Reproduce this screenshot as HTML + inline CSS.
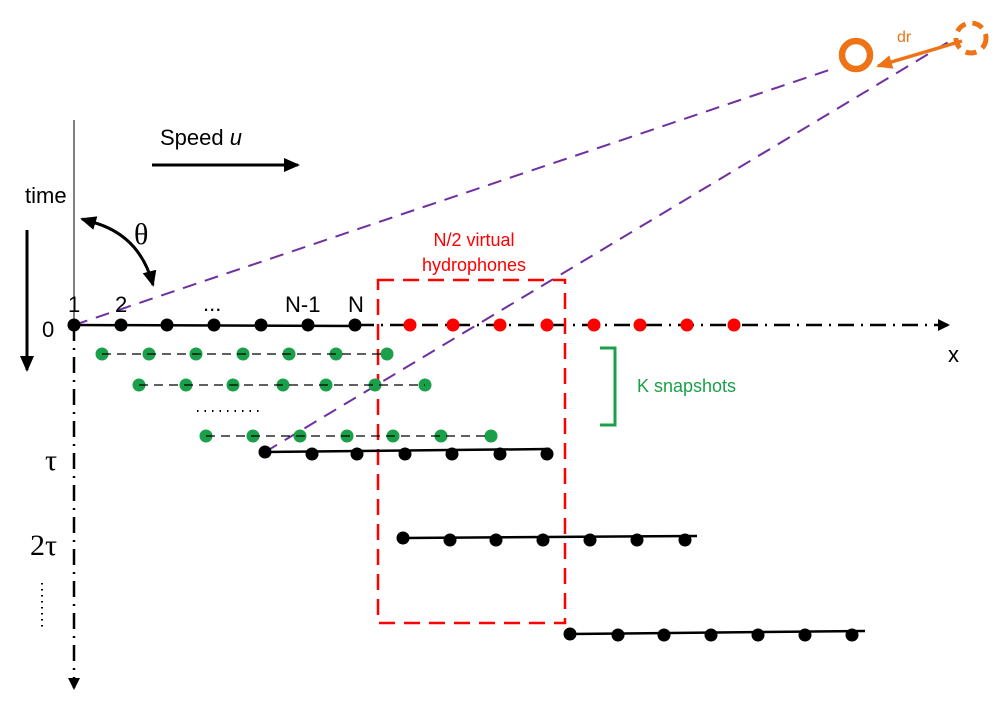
<!DOCTYPE html>
<html><head><meta charset="utf-8"><style>html,body{margin:0;padding:0;background:#fff}svg{display:block}</style></head>
<body>
<svg width="1000" height="711" viewBox="0 0 1000 711" xmlns="http://www.w3.org/2000/svg" font-family="Liberation Sans, sans-serif">
<defs>
<marker id="ab" markerWidth="12" markerHeight="12" refX="10" refY="6" orient="auto" markerUnits="userSpaceOnUse"><path d="M0,0 L12,6 L0,12 z" fill="#000"/></marker>
<marker id="ab2" markerWidth="16" markerHeight="14" refX="14" refY="7" orient="auto" markerUnits="userSpaceOnUse"><path d="M0,0 L16,7 L0,14 z" fill="#000"/></marker>
<marker id="ao" markerWidth="16" markerHeight="14" refX="14" refY="7" orient="auto" markerUnits="userSpaceOnUse"><path d="M0,0 L16,7 L0,14 z" fill="#ee7316"/></marker>
</defs>
<line x1="74" y1="120" x2="74" y2="325" stroke="#000" stroke-width="1"/>
<line x1="74" y1="325" x2="74" y2="688" stroke="#000" stroke-width="2.5" stroke-dasharray="16,7,2,7" marker-end="url(#ab)"/>
<line x1="74" y1="325" x2="358" y2="326" stroke="#000" stroke-width="2.5"/>
<line x1="358" y1="325" x2="948" y2="325" stroke="#000" stroke-width="2.5" stroke-dasharray="16,7,2,7" marker-end="url(#ab)"/>
<line x1="27" y1="230" x2="27" y2="370" stroke="#000" stroke-width="3" marker-end="url(#ab2)"/>
<text x="25" y="203" font-size="22">time</text>
<text x="160" y="145" font-size="22">Speed <tspan font-style="italic">u</tspan></text>
<line x1="152" y1="165" x2="298" y2="165" stroke="#000" stroke-width="3" marker-end="url(#ab2)"/>
<path d="M 92 222 Q 140 235 153 285" fill="none" stroke="#000" stroke-width="3" marker-end="url(#ab2)"/>
<line x1="95" y1="223" x2="82" y2="219" stroke="#000" stroke-width="3" marker-end="url(#ab2)"/>
<text x="134" y="244" font-size="30" font-family="Liberation Serif, serif">θ</text>
<line x1="74" y1="325" x2="835" y2="68" stroke="#7030a0" stroke-width="2" stroke-dasharray="14,9"/>
<line x1="265" y1="452" x2="955" y2="38" stroke="#7030a0" stroke-width="2" stroke-dasharray="14,9"/>
<rect x="378" y="280" width="187" height="343" fill="none" stroke="#f00" stroke-width="2.5" stroke-dasharray="16,9"/>
<text x="474" y="246" font-size="18" fill="#f00" text-anchor="middle">N/2 virtual</text>
<text x="474" y="271" font-size="18" fill="#f00" text-anchor="middle">hydrophones</text>
<g font-size="22">
<text x="68" y="312">1</text><text x="115" y="312">2</text>
<text x="203" y="311">...</text>
<text x="285" y="312">N-1</text><text x="348" y="312">N</text>
<text x="42" y="337">0</text>
<text x="948" y="362">x</text>
</g>
<g font-family="Liberation Serif, serif" font-size="30">
<text x="45" y="470">τ</text>
<text x="30" y="555">2τ</text>
</g>
<line x1="42" y1="583" x2="42" y2="630" stroke="#000" stroke-width="2" stroke-dasharray="1.5,4.5"/>
<g fill="#000">
<circle cx="74" cy="325" r="6.5"/><circle cx="121" cy="325" r="6.5"/><circle cx="167" cy="325" r="6.5"/><circle cx="214" cy="325" r="6.5"/><circle cx="261" cy="325" r="6.5"/><circle cx="308" cy="325" r="6.5"/><circle cx="355" cy="325" r="6.5"/>
</g>
<g fill="#f00">
<circle cx="410" cy="325" r="6.5"/><circle cx="453" cy="325" r="6.5"/><circle cx="500" cy="325" r="6.5"/><circle cx="547" cy="325" r="6.5"/><circle cx="594" cy="325" r="6.5"/><circle cx="640" cy="325" r="6.5"/><circle cx="687" cy="325" r="6.5"/><circle cx="734" cy="325" r="6.5"/>
</g>
<g fill="#1aa04a">
<circle cx="102" cy="354" r="6.5"/><circle cx="149" cy="354" r="6.5"/><circle cx="196" cy="354" r="6.5"/><circle cx="243" cy="354" r="6.5"/><circle cx="289" cy="354" r="6.5"/><circle cx="336" cy="354" r="6.5"/><circle cx="387" cy="354" r="6.5"/>
<circle cx="139" cy="385" r="6.5"/><circle cx="186" cy="385" r="6.5"/><circle cx="233" cy="385" r="6.5"/><circle cx="283" cy="385" r="6.5"/><circle cx="326" cy="385" r="6.5"/><circle cx="375" cy="385" r="6.5"/><circle cx="425" cy="385" r="6.5"/>
<circle cx="206" cy="436" r="6.5"/><circle cx="253" cy="436" r="6.5"/><circle cx="300" cy="436" r="6.5"/><circle cx="347" cy="436" r="6.5"/><circle cx="393" cy="436" r="6.5"/><circle cx="441" cy="436" r="6.5"/><circle cx="491" cy="436" r="6.5"/>
</g>
<g stroke="#000" stroke-width="1.2" stroke-dasharray="9,6">
<line x1="102" y1="354" x2="387" y2="354"/>
<line x1="139" y1="385" x2="425" y2="385"/>
<line x1="206" y1="436" x2="491" y2="436"/>
</g>
<line x1="197" y1="411" x2="262" y2="411" stroke="#000" stroke-width="2" stroke-dasharray="1.5,6"/>
<g stroke="#000" stroke-width="2.5">
<line x1="265" y1="452" x2="550" y2="449"/>
<line x1="403" y1="538" x2="697" y2="536"/>
<line x1="570" y1="634" x2="865" y2="631"/>
</g>
<g fill="#000">
<circle cx="265" cy="452" r="6.5"/><circle cx="312" cy="454" r="6.5"/><circle cx="357" cy="454" r="6.5"/><circle cx="405" cy="454" r="6.5"/><circle cx="452" cy="454" r="6.5"/><circle cx="500" cy="454" r="6.5"/><circle cx="547" cy="454" r="6.5"/>
<circle cx="403" cy="538" r="6.5"/><circle cx="450" cy="540" r="6.5"/><circle cx="496" cy="540" r="6.5"/><circle cx="543" cy="540" r="6.5"/><circle cx="590" cy="540" r="6.5"/><circle cx="637" cy="540" r="6.5"/><circle cx="685" cy="540" r="6.5"/>
<circle cx="570" cy="634" r="6.5"/><circle cx="618" cy="635" r="6.5"/><circle cx="664" cy="635" r="6.5"/><circle cx="711" cy="635" r="6.5"/><circle cx="758" cy="635" r="6.5"/><circle cx="805" cy="635" r="6.5"/><circle cx="852" cy="635" r="6.5"/>
</g>
<path d="M600 348 H615 V425 H600" fill="none" stroke="#1aa04a" stroke-width="3"/>
<text x="637" y="392" font-size="18" fill="#1aa04a">K snapshots</text>
<circle cx="856" cy="55" r="14" fill="none" stroke="#ee7316" stroke-width="6.5"/>
<circle cx="971" cy="38" r="15" fill="none" stroke="#ee7316" stroke-width="5" stroke-dasharray="11,7"/>
<line x1="962" y1="41" x2="878" y2="66" stroke="#ee7316" stroke-width="3.5" marker-end="url(#ao)"/>
<text x="897" y="42" font-size="16" fill="#ee7316">dr</text>
</svg>
</body></html>
